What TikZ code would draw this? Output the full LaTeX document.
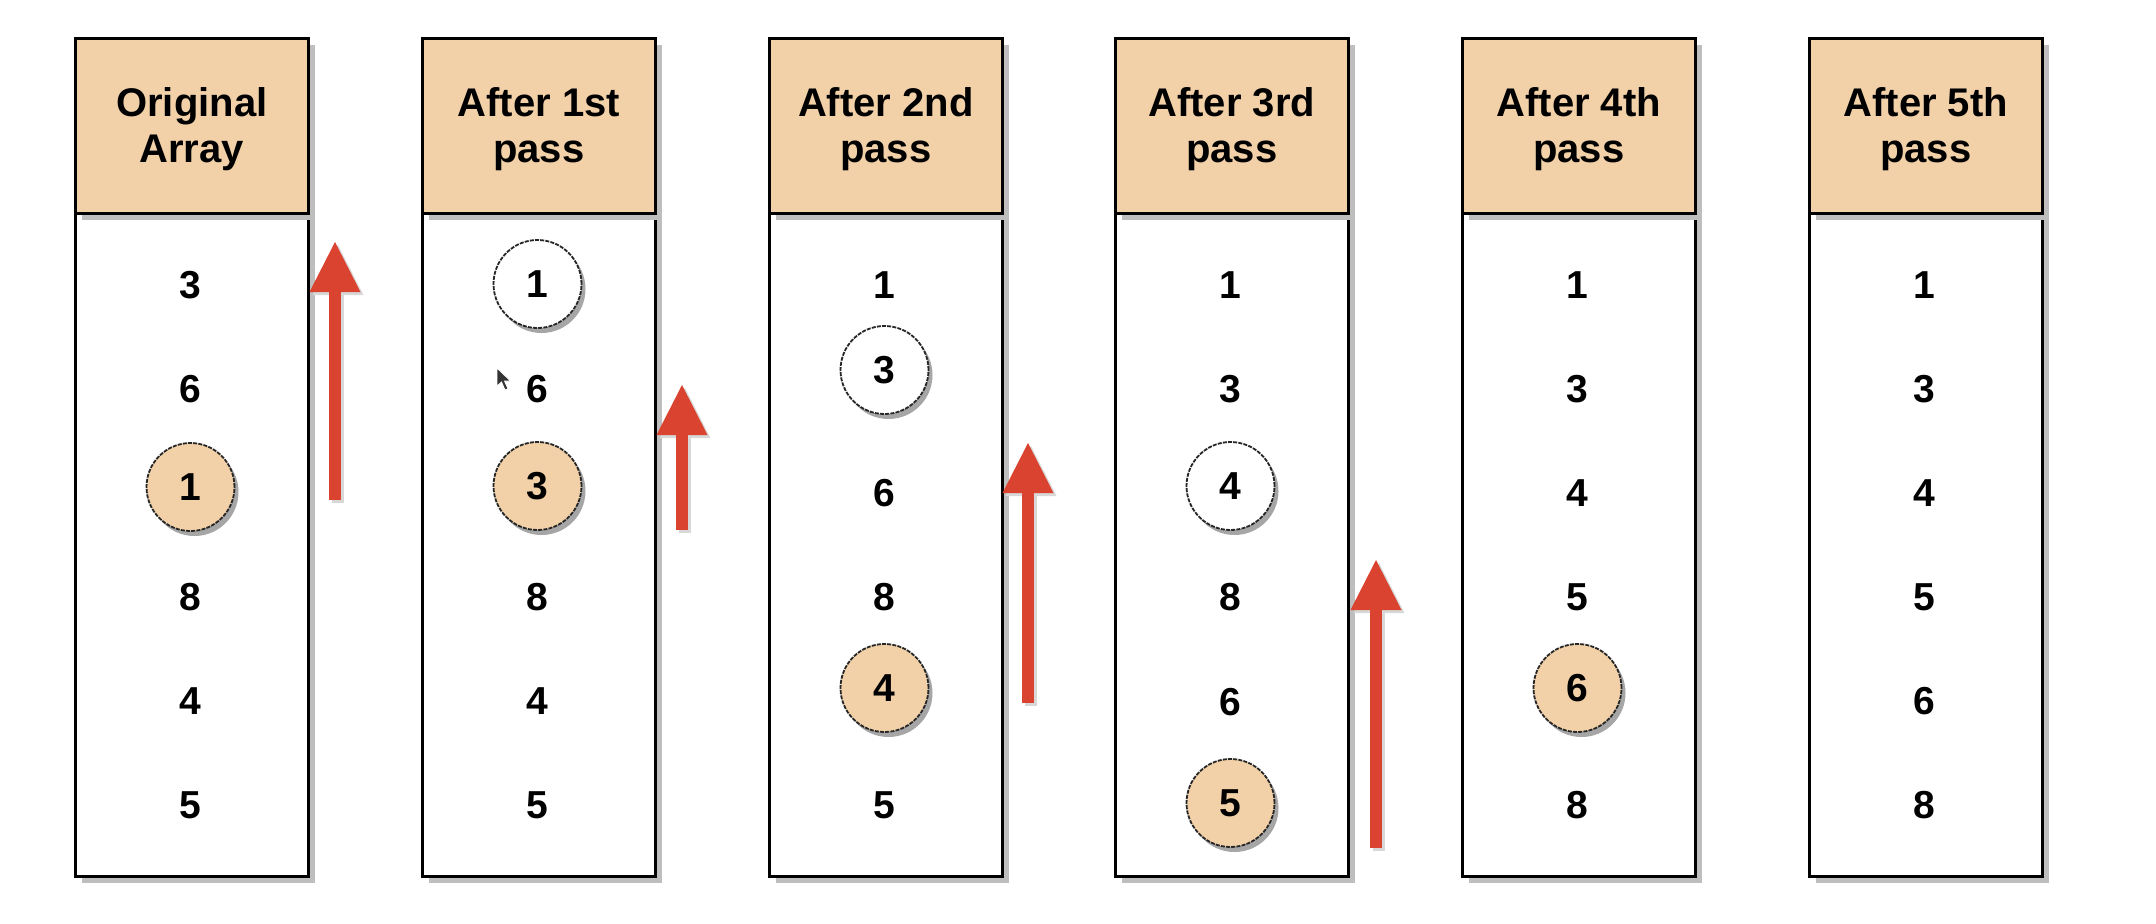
\documentclass[tikz,border=0pt]{standalone}
\usepackage{fontspec}
\setmainfont{Liberation Sans}
\usetikzlibrary{arrows.meta,shadows}
\definecolor{peach}{HTML}{F2D1A8}
\definecolor{arrowred}{HTML}{D9432F}
\definecolor{shade}{HTML}{BEBEBE}
\begin{document}
\begin{tikzpicture}[x=1pt,y=-1pt,
  boxshadow/.style={drop shadow={shadow xshift=7pt,shadow yshift=-7pt,fill=shade,opacity=1}},
  body/.style={draw=black,line width=2.6pt,fill=white,rectangle,anchor=north west,
    minimum width=233pt,minimum height=663pt,inner sep=0pt,boxshadow},
  head/.style={draw=black,line width=2.6pt,fill=peach,rectangle,anchor=north west,
    minimum width=233pt,minimum height=175pt,inner sep=0pt,boxshadow},
  headtext/.style={align=center,inner sep=0pt,font=\bfseries\fontsize{40}{46}\selectfont},
  num/.style={font=\bfseries\fontsize{39}{45}\selectfont,inner sep=0pt},
  ring/.style={circle,draw=black!85,line width=1.8pt,dash pattern=on 4pt off 1.2pt,
    minimum size=88pt,inner sep=0pt,font=\bfseries\fontsize{39}{45}\selectfont,
    drop shadow={shadow xshift=4pt,shadow yshift=-5pt,fill=black!35,opacity=1}},
  hl/.style={ring,fill=peach},
  wh/.style={ring,fill=white},
  uparrow/.style={draw=arrowred,line width=12pt,-{Triangle[length=50pt,width=51pt,line width=0pt]}},
  arrowshade/.style={draw=shade!60,line width=12pt,-{Triangle[length=50pt,width=51pt,line width=0pt]}}
]
\useasboundingbox (0,0) rectangle (2156,924);
\fill[white] (0,0) rectangle (2156,924);

% column bodies and headers
\node[body] (b1) at (74,212) {};
\node[body] (b2) at (421,212) {};
\node[body] (b3) at (768,212) {};
\node[body] (b4) at (1114,212) {};
\node[body] (b5) at (1461,212) {};
\node[body] (b6) at (1808,212) {};
\node[head] (h1) at (74,37) {};
\node[head] (h2) at (421,37) {};
\node[head] (h3) at (768,37) {};
\node[head] (h4) at (1114,37) {};
\node[head] (h5) at (1461,37) {};
\node[head] (h6) at (1808,37) {};
\node[headtext] (t1) at ([yshift=-3pt]h1.center) {Original\\Array};
\node[headtext] (t2) at ([yshift=-3pt]h2.center) {After 1st\\pass};
\node[headtext] (t3) at ([yshift=-3pt]h3.center) {After 2nd\\pass};
\node[headtext] (t4) at ([yshift=-3pt]h4.center) {After 3rd\\pass};
\node[headtext] (t5) at ([yshift=-3pt]h5.center) {After 4th\\pass};
\node[headtext] (t6) at ([yshift=-3pt]h6.center) {After 5th\\pass};

% column 1
\node[num] (c1a) at (190.5,285) {3};
\node[num] (c1b) at (190.5,389) {6};
\node[hl]  (c1c) at (190.5,487) {1};
\node[num] (c1d) at (190.5,597) {8};
\node[num] (c1e) at (190.5,701) {4};
\node[num] (c1f) at (190.5,805) {5};

% column 2
\node[wh]  (c2a) at (537.5,284) {1};
\node[num] (c2b) at (537.5,389) {6};
\node[hl]  (c2c) at (537.5,486) {3};
\node[num] (c2d) at (537.5,597) {8};
\node[num] (c2e) at (537.5,701) {4};
\node[num] (c2f) at (537.5,805) {5};

% column 3
\node[num] (c3a) at (884.5,285) {1};
\node[wh]  (c3b) at (884.5,370) {3};
\node[num] (c3c) at (884.5,493) {6};
\node[num] (c3d) at (884.5,597) {8};
\node[hl]  (c3e) at (884.5,688) {4};
\node[num] (c3f) at (884.5,805) {5};

% column 4
\node[num] (c4a) at (1230.5,285) {1};
\node[num] (c4b) at (1230.5,389) {3};
\node[wh]  (c4c) at (1230.5,486) {4};
\node[num] (c4d) at (1230.5,597) {8};
\node[num] (c4e) at (1230.5,702) {6};
\node[hl]  (c4f) at (1230.5,803) {5};

% column 5
\node[num] (c5a) at (1577.5,285) {1};
\node[num] (c5b) at (1577.5,389) {3};
\node[num] (c5c) at (1577.5,493) {4};
\node[num] (c5d) at (1577.5,597) {5};
\node[hl]  (c5e) at (1577.5,688) {6};
\node[num] (c5f) at (1577.5,805) {8};

% column 6
\node[num] (c6a) at (1924.5,285) {1};
\node[num] (c6b) at (1924.5,389) {3};
\node[num] (c6c) at (1924.5,493) {4};
\node[num] (c6d) at (1924.5,597) {5};
\node[num] (c6e) at (1924.5,701) {6};
\node[num] (c6f) at (1924.5,805) {8};

% arrows
\coordinate (a1s) at (335,500);  \coordinate (a1e) at (335,242);
\coordinate (a2s) at (682,530);  \coordinate (a2e) at (682,385);
\coordinate (a3s) at (1028,703); \coordinate (a3e) at (1028,443);
\coordinate (a4s) at (1376,848); \coordinate (a4e) at (1376,560);
\foreach \i in {1,2,3,4}{
  \draw[arrowshade,transform canvas={xshift=3pt,yshift=-3pt}] (a\i s) -- (a\i e);
  \draw[uparrow] (a\i s) -- (a\i e);
}

% mouse pointer
\fill[black!80,draw=white,line width=0.8pt] (497,368) -- (497,386) -- (501.5,382) -- (505,390) -- (508,388.8) -- (504.5,381) -- (510.5,381) -- cycle;
\end{tikzpicture}
\end{document}
